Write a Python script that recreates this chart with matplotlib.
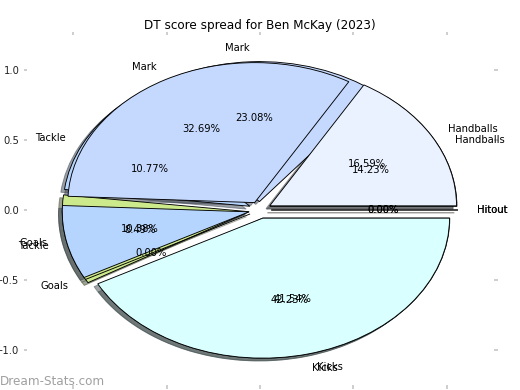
import matplotlib
matplotlib.use("Agg")
import matplotlib.pyplot as plt

categories = ['Hitout', 'Handballs', 'Mark', 'Tackle', 'Goals', 'Kicks']
pie_front = [0.0, 16.59, 32.69, 8.49, 0.0, 42.23]
pie_back = [0.0, 14.23, 23.08, 10.77, 10.38, 41.54]
colors = ['#ffe4c4', '#eaf2ff', '#c5d9ff', '#b5d5ff', '#cce98c', '#d9ffff']
tick_vals = [-1.0, -0.5, 0.0, 0.5, 1.0]
title = 'DT score spread for Ben McKay (2023)'

fig = plt.figure(figsize=(520 / 72, 390 / 72), dpi=72)
ax = fig.add_axes([26.5 / 520, 5 / 390, 467 / 520, 350 / 390])

explode = [0.06] * len(categories)
wprops = dict(edgecolor='black', linewidth=0.9)

for vals in (pie_back, pie_front):
    ax.pie(vals, labels=categories, colors=colors, explode=explode,
           autopct='%.2f%%', shadow=True, startangle=0,
           wedgeprops=wprops, labeldistance=1.1, pctdistance=0.6,
           textprops=dict(fontsize=10, color='black'))

ax.set_aspect('auto')
ax.set_xlim(-1.25, 1.25)
ax.set_ylim(-1.25, 1.25)
ax.set_xticks(tick_vals)
ax.set_yticks(tick_vals)
ax.set_frame_on(False)
ax.tick_params(top=True, right=True, direction='out', length=3.5, width=1.5,
               color='#c0c0c0', labelsize=10, labelcolor='#222222')
ax.set_title(title, fontsize=12, pad=6)

fig.text(0.0, 0.012, 'Dream-Stats.com', fontsize=12, color='#a0a0a0')

fig.savefig('out.png', dpi=72)
